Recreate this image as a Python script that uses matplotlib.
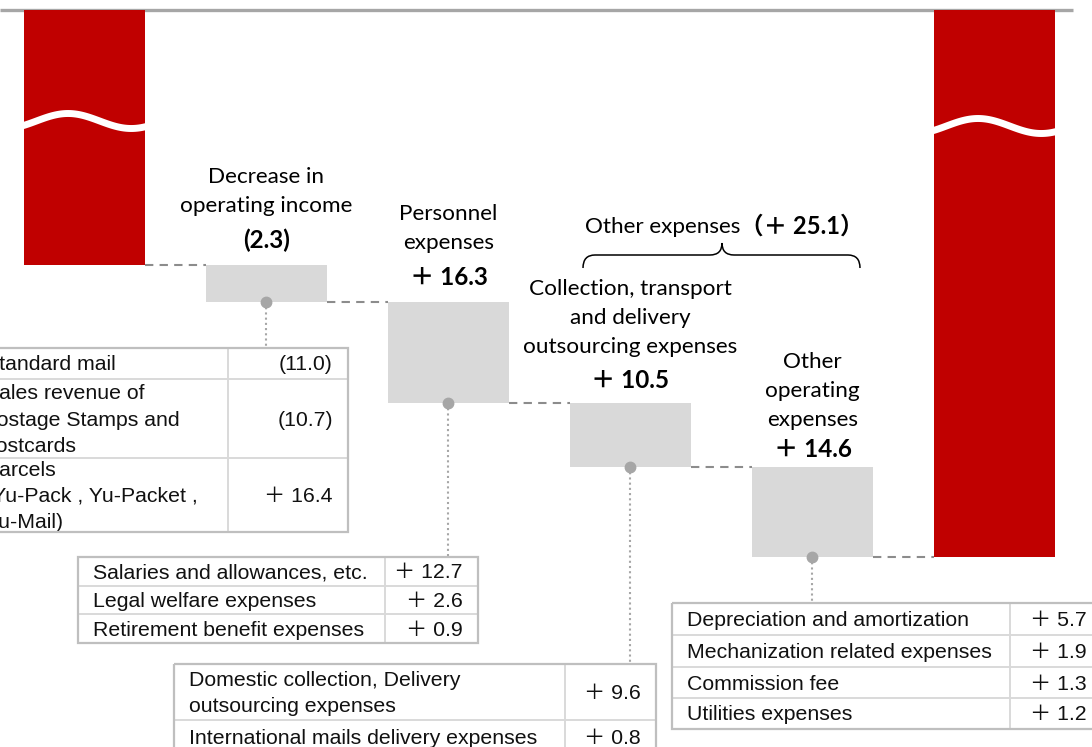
import numpy as np
import matplotlib
matplotlib.use('Agg')
import matplotlib.pyplot as plt
from matplotlib.path import Path
from matplotlib.patches import PathPatch, Rectangle

# waterfall (billion yen); the two end bars are broken, only their visible part is drawn
step_names = ['Decrease in\noperating income', 'Personnel\nexpenses',
              'Collection, transport\nand delivery\noutsourcing expenses',
              'Other\noperating\nexpenses']
step_labels = ['(2.3)', '＋ 16.3', '＋ 10.5', '＋ 14.6']
step_values = [2.3, 16.3, 10.5, 14.6]
start_visible = 41.5
min_step = 6.0          # smallest box drawn, so the small change stays visible

group_label = 'Other expenses'
group_value = '（＋ 25.1）'

rev_items = ['Standard mail', 'Sales revenue of\npostage Stamps and\npostcards',
             'Parcels\n(Yu-Pack , Yu-Packet ,\nYu-Mail)']
rev_values = ['(11.0)', '(10.7)', '＋ 16.4']
pers_items = ['Salaries and allowances, etc.', 'Legal welfare expenses',
              'Retirement benefit expenses']
pers_values = ['＋ 12.7', '＋ 2.6', '＋ 0.9']
coll_items = ['Domestic collection, Delivery\noutsourcing expenses',
              'International mails delivery expenses']
coll_values = ['＋ 9.6', '＋ 0.8']
oth_items = ['Depreciation and amortization', 'Mechanization related expenses',
             'Commission fee', 'Utilities expenses']
oth_values = ['＋ 5.7', '＋ 1.9', '＋ 1.3', '＋ 1.2']

RED = '#c00000'
BOX = '#d9d9d9'
LABEL_FONT = ['Lato', 'Noto Sans CJK JP', 'DejaVu Sans']
TABLE_FONT = ['Liberation Sans', 'Noto Sans CJK JP', 'DejaVu Sans']

W, H = 1092, 747
fig = plt.figure(figsize=(W / 100, H / 100), dpi=100)
ax = fig.add_axes([0, 0, 1, 1])
ax.set_xlim(-0.464, 5.536)
ax.set_ylim(119.8, -1.63)
ax.axis('off')
ov = fig.add_axes([0, 0, 1, 1], zorder=3)
ov.set_xlim(0, W)
ov.set_ylim(H, 0)
ov.axis('off')
ov.patch.set_alpha(0)


def to_px(x, y):
    dx, dy = ax.transData.transform((x, y))
    return dx, H - dy


bw = 0.66
shown = [max(v, min_step) for v in step_values]
tops = start_visible + np.concatenate([[0], np.cumsum(shown)[:-1]])
bottoms = tops + np.array(shown)
end_total = bottoms[-1]
xs = np.arange(len(step_values)) + 1
x_end = len(step_values) + 1

# top rule
ax.plot([-0.464, x_end + bw / 2 + 0.1], [0, 0], color='#a6a6a6', lw=2.4,
        solid_capstyle='butt', zorder=1)

# red end bars
ax.bar([0, x_end], [start_visible, end_total], width=bw, color=RED, zorder=2)
# grey steps
ax.bar(xs, shown, bottom=tops, width=bw, color=BOX, zorder=2)

# dashed connectors
levels = [start_visible] + list(bottoms)
lefts = [0] + list(xs)
for lv, x0 in zip(levels, lefts):
    ax.plot([x0 + bw / 2, x0 + 1 - bw / 2], [lv, lv], color='#8c8c8c', lw=1.5,
            dashes=(4, 3), zorder=1)

# wavy break marks on the red bars
for xb, yc in [(0, 121), (x_end, 126)]:
    pl, _ = to_px(xb - bw / 2, 0)
    pr, _ = to_px(xb + bw / 2, 0)
    t = np.linspace(-0.05, 1.05, 80)
    wy = yc - 7.5 * np.sin(2 * np.pi * t * 0.95 - 0.6)
    ov.plot(pl + t * (pr - pl), wy, color='white', lw=5, zorder=4)

# step labels
val_off = [25, 25, 22, 18]
name_gap = [36, 36, 35, 31]
for x, top, name, lab, vo, ng in zip(xs, tops, step_names, step_labels, val_off, name_gap):
    px, py = to_px(x, top)
    vy = py - vo
    ov.text(px, vy, lab, ha='center', va='center', fontsize=17.5, fontweight='bold',
            family=LABEL_FONT, color='black')
    lines = name.split('\n')
    for i, ln in enumerate(reversed(lines)):
        ov.text(px, vy - ng - 29 * i + 1.5, ln, ha='center', va='center', fontsize=16.2,
                family=LABEL_FONT, color='black')

# group brace over the two "other" steps
ov.text(740, 227, group_label, ha='right', va='center', fontsize=16.2,
        family=LABEL_FONT, color='black')
ov.text(740, 226, group_value, ha='left', va='center', fontsize=17, fontweight='bold',
        family=LABEL_FONT, color='black')
bl, br, by, mid = 583, 860, 255, 722
verts = [(bl, by + 13), (bl, by), (bl + 12, by), (bl + 12, by),
         (mid - 12, by), (mid, by), (mid, by - 12),
         (mid, by), (mid + 12, by), (mid + 12, by),
         (br - 12, by), (br, by), (br, by + 13)]
codes = [Path.MOVETO, Path.CURVE3, Path.CURVE3, Path.LINETO,
         Path.LINETO, Path.CURVE3, Path.CURVE3,
         Path.CURVE3, Path.CURVE3, Path.LINETO,
         Path.LINETO, Path.CURVE3, Path.CURVE3]
ov.add_patch(PathPatch(Path(verts, codes), fill=False, lw=1.1, color='black'))


def draw_table(x0, xs_, x1, y0, rows, items, values):
    y = y0
    edges = [y0]
    for h, it, va in zip(rows, items, values):
        lines = it.split('\n')
        n = len(lines)
        cy = y + h / 2 + 1.5
        for i, ln in enumerate(lines):
            ly = cy + (i - (n - 1) / 2) * 26.5
            ov.text(x0 + 15, ly, ln, ha='left', va='center', fontsize=15.3,
                    family=TABLE_FONT, color='#111111')
        ov.text(x1 - 15, cy, va, ha='right', va='center', fontsize=15.3,
                family=TABLE_FONT, color='#111111')
        y += h
        edges.append(y)
    for e in edges[1:-1]:
        ov.plot([x0, x1], [e, e], color='#d9d9d9', lw=1.4, zorder=2)
    ov.plot([xs_, xs_], [y0, y], color='#d9d9d9', lw=1.4, zorder=2)
    ov.add_patch(Rectangle((x0, y0), x1 - x0, y - y0, fill=False,
                           ec='#bfbfbf', lw=1.6, zorder=3))
    return y0


tables = [
    (-30, 228, 348, 348, [31, 79, 74], rev_items, rev_values),
    (78, 385, 478, 557, [29, 28, 29], pers_items, pers_values),
    (174, 565, 656, 664, [56, 34], coll_items, coll_values),
    (672, 1010, 1102, 603, [32, 32, 31, 31], oth_items, oth_values),
]

for x, bot, tb in zip(xs, bottoms, tables):
    ttop = draw_table(*tb)
    px, py = to_px(x, bot)
    ov.plot([px, px], [py, ttop], color='#a6a6a6', lw=1.5, dashes=(1, 1.5), zorder=1)
    ax.plot(x, bot, 'o', ms=7.5, color='#a6a6a6', zorder=5)

fig.savefig('out.png', dpi=100)
